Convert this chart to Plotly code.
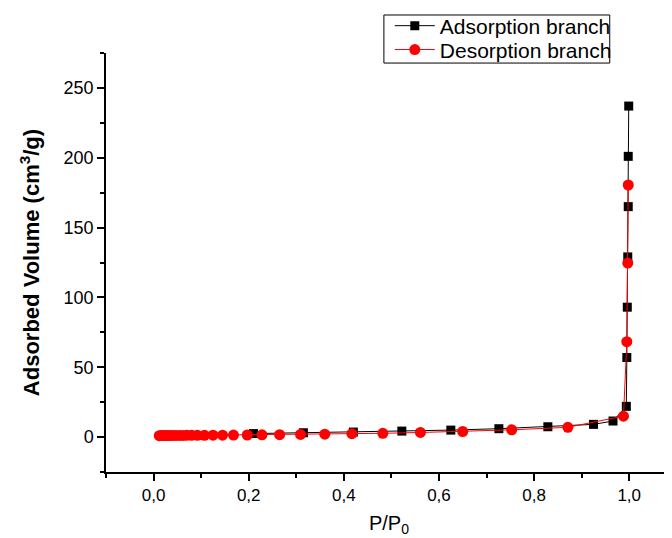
import plotly.graph_objects as go

# Adsorption branch
ads_x = [0.21, 0.315, 0.42, 0.522, 0.625, 0.726, 0.829, 0.925, 0.966, 0.994, 0.995, 0.996, 0.997, 0.998, 0.998, 0.999]
ads_y = [2.5, 3.1, 3.6, 4.3, 5.0, 6.0, 7.4, 9.1, 11.5, 22, 57, 93, 129, 165, 201, 237]

# Desorption branch
des_x = [0.998, 0.997, 0.995, 0.988, 0.871, 0.753, 0.65, 0.561, 0.482, 0.417, 0.36, 0.309,
         0.265, 0.228, 0.197, 0.168, 0.145, 0.125, 0.107, 0.092, 0.08, 0.07, 0.062, 0.055,
         0.048, 0.042, 0.036, 0.031, 0.026, 0.021, 0.016, 0.012]
des_y = [180.5, 124.6, 68.3, 15.0, 7.0, 5.2, 4.0, 3.3, 2.7, 2.4, 2.1, 1.9,
         1.7, 1.6, 1.5, 1.45, 1.4, 1.35, 1.3, 1.3, 1.25, 1.25, 1.2, 1.2,
         1.2, 1.15, 1.15, 1.1, 1.1, 1.1, 1.05, 1.0]

x_ticks = [0.0, 0.2, 0.4, 0.6, 0.8, 1.0]
y_ticks = [0, 50, 100, 150, 200, 250]

fig = go.Figure()
fig.add_trace(go.Scatter(
    x=ads_x, y=ads_y, mode="lines+markers", name="Adsorption branch",
    line=dict(color="black", width=1),
    marker=dict(symbol="square", size=9, color="black"),
    legend="legend",
))
fig.add_trace(go.Scatter(
    x=des_x, y=des_y, mode="lines+markers", name="Desorption branch",
    line=dict(color="#ff0000", width=1),
    marker=dict(symbol="circle", size=11, color="#ff0000"),
    legend="legend2",
))

font_family = "Liberation Sans, Arial, sans-serif"
leg_common = dict(
    xref="container", yref="container", xanchor="left", yanchor="middle",
    borderwidth=0, bgcolor="rgba(0,0,0,0)",
    font=dict(size=21, family=font_family, color="black"),
    itemwidth=40,
)

fig.update_layout(
    width=664, height=530,
    margin=dict(l=98, r=0, t=45, b=66, autoexpand=False),
    paper_bgcolor="white", plot_bgcolor="white",
    separators=", ",
    font=dict(family=font_family, size=17, color="black"),
    showlegend=True,
    legend=dict(x=0.575, y=0.966, **leg_common),
    legend2=dict(x=0.575, y=0.921, **leg_common),
    shapes=[dict(
        type="rect", xref="paper", yref="paper",
        x0=0.491, x1=0.890, y0=0.976, y1=1.0907,
        line=dict(color="black", width=1), fillcolor="rgba(0,0,0,0)", layer="above",
    )],
    xaxis=dict(
        range=[-0.1, 1.09], tickvals=x_ticks, tickformat=".1f",
        automargin=False,
        showline=True, linecolor="black", linewidth=1.5,
        ticks="outside", ticklen=7, tickwidth=1.5, tickcolor="black",
        minor=dict(dtick=0.1, tick0=0, ticks="outside", ticklen=4, tickwidth=1.5, tickcolor="black"),
        showgrid=False, zeroline=False,
        title=dict(text="P/P<sub>0</sub>", font=dict(size=20, family=font_family), standoff=12),
        tickfont=dict(size=17),
    ),
    yaxis=dict(
        range=[-25, 275], tickvals=y_ticks,
        automargin=False,
        showline=True, linecolor="black", linewidth=1.5,
        ticks="outside", ticklen=7, tickwidth=1.5, tickcolor="black",
        minor=dict(dtick=25, tick0=25, ticks="outside", ticklen=4, tickwidth=1.5, tickcolor="black"),
        showgrid=False, zeroline=False,
        title=dict(text="<b>Adsorbed Volume (cm<sup>3</sup>/g)</b>", font=dict(size=22, family=font_family), standoff=18),
        tickfont=dict(size=18),
    ),
)

fig.write_html("out.html")
